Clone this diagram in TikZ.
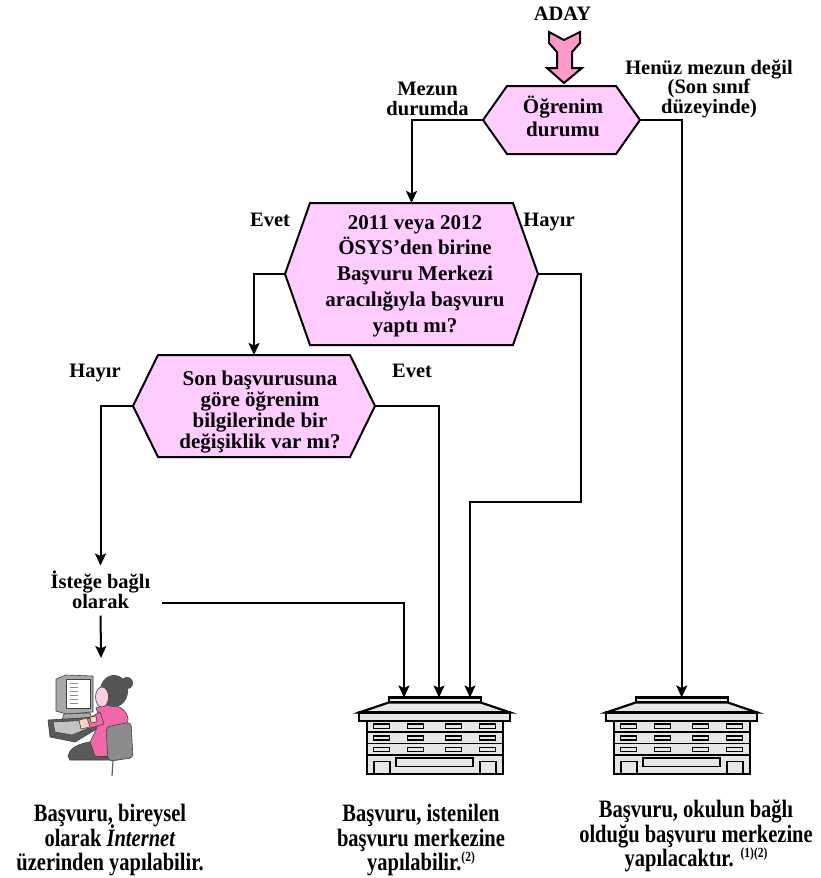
\documentclass[tikz,border=0pt]{standalone}
\usepackage{fontspec}
\setmainfont{Liberation Serif}
\newfontfamily\condfont{Liberation Serif}[FakeStretch=0.82]
\usetikzlibrary{arrows.meta}
\definecolor{hexpink}{HTML}{FFCCFF}
\definecolor{arrpink}{HTML}{FF99CC}
\definecolor{srvgray}{HTML}{E6E6E6}
\definecolor{darkg}{HTML}{5A5A5A}
\definecolor{lightg}{HTML}{C4C4C4}
\definecolor{monitorg}{HTML}{A8A8A8}
\definecolor{bodypink}{HTML}{F266AA}
\definecolor{skinc}{HTML}{F8D2B8}
\definecolor{facec}{HTML}{FAD0E6}
\definecolor{chairg}{HTML}{8C8C8C}
\definecolor{hairc}{HTML}{555555}
\newcommand{\topst}{\rule{0pt}{0.95em}}
\newcommand{\tightlines}{\lineskiplimit=-50pt\relax}
\newcommand{\supnote}[1]{\raisebox{0.36em}{\fontsize{14}{14}\selectfont #1}}
\newcommand{\hexa}[6]{%
  \draw[hexbox] (#2-#4,#3) -- (#2-#4+#6,#3-#5) -- (#2+#4-#6,#3-#5) -- (#2+#4,#3)
     -- (#2+#4-#6,#3+#5) -- (#2-#4+#6,#3+#5) -- cycle;
  \coordinate (#1w) at (#2-#4,#3);
  \coordinate (#1e) at (#2+#4,#3);
  \coordinate (#1n) at (#2,#3-#5);
}
\newcommand{\serverat}[1]{%
  \begin{scope}[shift={(#1,0)}]
    \draw[srv] (-46,697.5) rectangle (46,702.5);
    \draw[srv] (-46,702.5) -- (46,702.5) -- (75.5,712.5) -- (-75.5,712.5) -- cycle;
    \draw[srv] (-75.5,712.5) rectangle (75.5,721);
    \draw[srv] (-68,721) rectangle (68,774);
    \draw[srvthin] (-68,732) -- (68,732) (-68,743.5) -- (68,743.5) (-68,755) -- (68,755);
    \foreach \sy in {724,735.8,747.4}{\foreach \sx in {-61,-27,11,45}{\draw[slot] (\sx,\sy) rectangle ++(16,4.3);}}
    \draw[slot] (-38.5,758) rectangle (38.5,766.5);
    \draw[srvthin] (-61,774) -- (-61,761.5) -- (-45,761.5) -- (-45,774);
    \draw[srvthin] (45,774) -- (45,761.5) -- (61,761.5) -- (61,774);
  \end{scope}}
\tikzset{
  conn/.style={line width=2pt, -{Stealth[length=12pt,width=11pt,inset=2.5pt]}},
  hexbox/.style={line width=2pt, draw=black, fill=hexpink, line join=miter},
  srv/.style={line width=2.2pt, draw=black, fill=srvgray, line join=miter},
  srvthin/.style={line width=1.8pt, draw=black},
  slot/.style={line width=1.5pt, draw=black, fill=srvgray},
  txt/.style 2 args={font={\bfseries\fontsize{#1}{#2}\selectfont\tightlines}, align=center, inner sep=0pt},
  btm/.style={font={\condfont\bfseries\fontsize{25}{24.5}\selectfont\tightlines}, align=center, inner sep=0pt},
  pers/.style={draw=black!75, line width=0.6pt, line join=round},
}
\begin{document}
\begin{tikzpicture}[x=1pt,y=-1pt]
\useasboundingbox (0,0) rectangle (820,878);

% ---- start arrow
\node[txt={20.5}{20}, anchor=base] (aday) at (562.5,20.7) {ADAY};
\draw[line width=2pt, fill=arrpink, line join=miter] (549,32) -- (564,40) -- (580,32) -- (580,43) -- (572,52) -- (572,68)
  -- (582,68) -- (564,83) -- (547,68) -- (557,68) -- (557,52) -- (549,43) -- cycle;

% ---- decision boxes
\hexa{h1}{561.5}{120}{78.5}{34}{24}
\hexa{h2}{411.5}{274}{126.5}{71}{25}
\hexa{h3}{254}{406}{121}{51}{25}

\node[txt={21}{23.4}, anchor=north] (q1) at (563,93.3) {\topst Öğrenim\\durumu};
\node[txt={21}{25.75}, anchor=north] (q2) at (415,209) {\topst 2011 veya 2012\\ÖSYS’den birine\\Başvuru Merkezi\\aracılığıyla başvuru\\yaptı mı?};
\node[txt={21}{21}, anchor=north] (q3) at (260,365) {\topst Son başvurusuna\\göre öğrenim\\bilgilerinde bir\\değişiklik var mı?};

% ---- branch labels
\node[txt={20.5}{20}, anchor=north] (lmezun) at (427.5,75.5) {\topst Mezun\\durumda};
\node[txt={20.5}{19.6}, anchor=north] (lhenuz) at (709,54.5) {\topst Henüz mezun değil\\(Son sınıf\\düzeyinde)};
\node[txt={20.5}{20}, anchor=base] (levet1) at (270,226) {Evet};
\node[txt={20.5}{20}, anchor=base] (lhayir1) at (549,226) {Hayır};
\node[txt={20.5}{20}, anchor=base] (lhayir2) at (95,377) {Hayır};
\node[txt={20.5}{20}, anchor=base] (levet2) at (412,377) {Evet};
\node[txt={20.5}{20}, anchor=north] (ist) at (100.5,568.5) {\topst İsteğe bağlı\\olarak};

% ---- servers
\serverat{434.7}
\serverat{681.7}
\coordinate (s1a) at (404,697.5);
\coordinate (s1b) at (439,697.5);
\coordinate (s1c) at (470,697.5);
\coordinate (s2) at (681.7,697.5);
\coordinate (bend) at (581,502);
\coordinate (istR) at (162,603);
\coordinate (pc) at (101,658);

% ---- connectors
\draw[conn] (h1w) -| (h2n);
\draw[conn] (h1e) -| (s2);
\draw[conn] (h2w) -| (h3n);
\draw[conn] (h2e) -| (bend) -| (s1c);
\draw[conn, shorten >=3pt] (h3w) -| (ist.north);
\draw[conn] (h3e) -| (s1b);
\draw[conn] (istR) -| (s1a);
\draw[conn, shorten <=7pt] (ist.south) -- (pc);

% ---- person at computer
\draw[pers, fill=monitorg] (56,679) -- (66,675) -- (93,676) -- (93,712) -- (66,714) -- (56,711) -- cycle;
\draw[pers, fill=white] (66,679) rectangle (90,708);
\foreach \yy in {683,687,691,695,699,703}{\draw[black!45, line width=0.6pt] (70,\yy) -- (78,\yy);}
\draw[pers, fill=monitorg] (64,714) -- (90,713) -- (92,719) -- (62,720) -- cycle;
\draw[pers, fill=darkg] (48,720) -- (97,717) -- (100,727) -- (75,742) -- (50,737) -- cycle;
\draw[pers, fill=lightg] (53,722) -- (92,720) -- (94,726) -- (72,735) -- (55,732) -- cycle;
\draw[pers, fill=darkg] (68,756) .. controls (70,742) and (100,738) .. (118,744) -- (118,760) -- (70,760) -- cycle;
\draw[pers, fill=bodypink] (96,708) .. controls (110,702) and (125,705) .. (128,718) -- (127,745)
  .. controls (125,755) and (110,758) .. (95,756) -- (90,742) -- (96,730) -- (100,718) -- cycle;
\draw[pers, fill=bodypink] (100,712) -- (84,721) -- (87,729) -- (104,724) -- cycle;
\draw[pers, fill=skinc] (79,720) -- (87,718) -- (90,727) -- (81,729) -- cycle;
\draw[pers, fill=skinc] (90,717) -- (96,716) -- (97,722) -- (91,723) -- cycle;
\draw[pers, fill=chairg, rounded corners=4pt] (106,727) -- (131,722) -- (133,758) -- (108,761) -- cycle;
\draw[chairg!70!black, line width=1.2pt] (113,761) -- (112,776);
\fill[hairc] (114,691) ellipse [x radius=14, y radius=16];
\fill[hairc] (127,683) circle [radius=6];
\draw[pers, fill=facec] (102,697) ellipse [x radius=6.5, y radius=10];

% ---- outcome texts
\node[btm, anchor=north] (out1) at (110,798) {\topst Başvuru, bireysel\\olarak \textit{İnternet}\\üzerinden yapılabilir.};
\node[btm, anchor=north] (out2) at (421,798) {\topst Başvuru, istenilen\\başvuru merkezine\\yapılabilir.\supnote{(2)}};
\node[btm, anchor=north] (out3) at (696,794) {\topst Başvuru, okulun bağlı\\olduğu başvuru merkezine\\yapılacaktır. \supnote{(1)(2)}};
\end{tikzpicture}
\end{document}
